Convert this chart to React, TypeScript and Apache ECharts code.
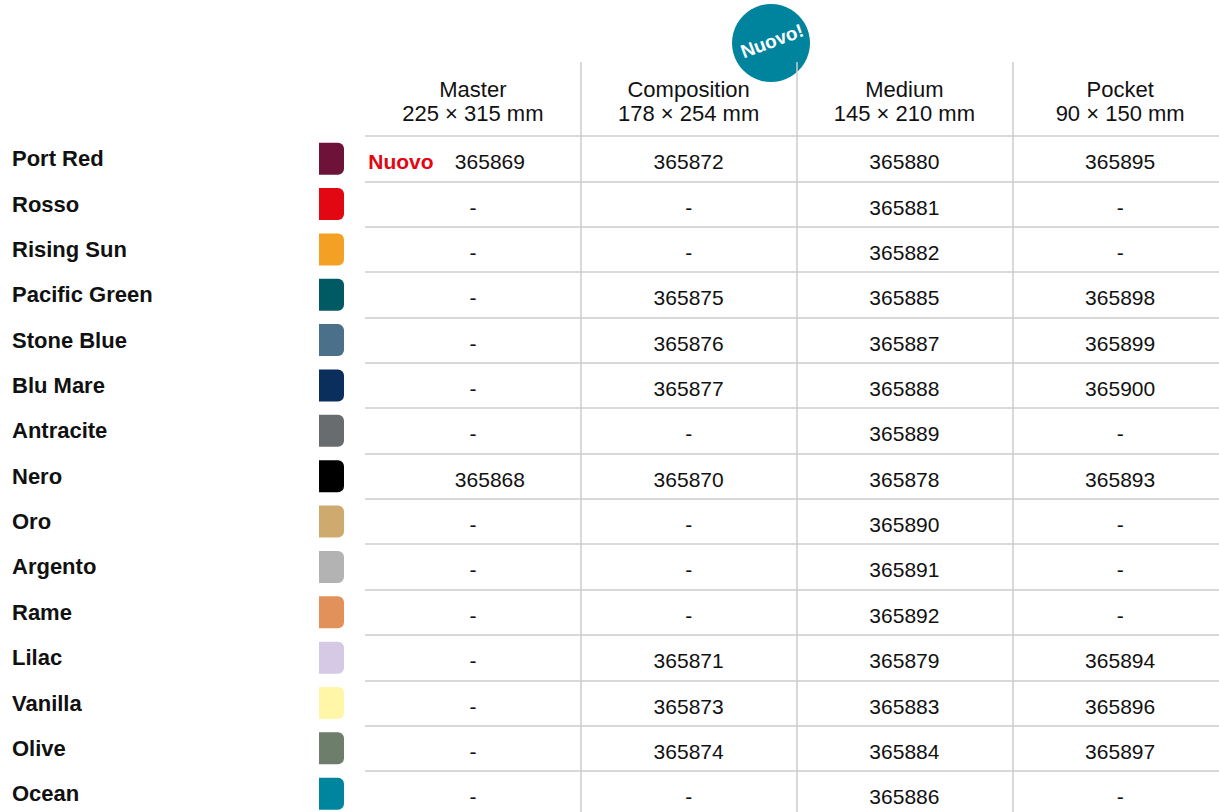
import React, { useEffect, useRef } from "react";
import * as echarts from "echarts";

const rowNames = [
  "Port Red", "Rosso", "Rising Sun", "Pacific Green", "Stone Blue", "Blu Mare", "Antracite",
  "Nero", "Oro", "Argento", "Rame", "Lilac", "Vanilla", "Olive", "Ocean",
];
const swatchColors = [
  "#6e1239", "#e30613", "#f4a024", "#005a63", "#4a7189", "#0b2f5c", "#696c6e",
  "#000000", "#cfaa6e", "#b3b3b3", "#e3915a", "#d6c9e5", "#fff6a8", "#6d7e6a", "#00859f",
];
const columnHeaders = [
  "Master\n225 × 315 mm",
  "Composition\n178 × 254 mm",
  "Medium\n145 × 210 mm",
  "Pocket\n90 × 150 mm",
];
const master = ["365869", "-", "-", "-", "-", "-", "-", "365868", "-", "-", "-", "-", "-", "-", "-"];
const composition = ["365872", "-", "-", "365875", "365876", "365877", "-", "365870", "-", "-", "-", "365871", "365873", "365874", "-"];
const medium = ["365880", "365881", "365882", "365885", "365887", "365888", "365889", "365878", "365890", "365891", "365892", "365879", "365883", "365884", "365886"];
const pocket = ["365895", "-", "-", "365898", "365899", "365900", "-", "365893", "-", "-", "-", "365894", "365896", "365897", "-"];
const masterFlags = ["Nuovo", "", "", "", "", "", "", "", "", "", "", "", "", "", ""];
const badgeText = "Nuovo!";

const FONT = "'Liberation Sans', Arial, Helvetica, sans-serif";
const LINE = "#cdcdcd";

export default function App() {
  const ref = useRef<HTMLDivElement>(null);

  useEffect(() => {
    if (!ref.current) return;
    const chart = echarts.init(ref.current, undefined, { renderer: "svg" });
    const columns = [master, composition, medium, pocket];
    const cellData: any[] = [];
    columns.forEach((col, ci) => {
      col.forEach((v, ri) => {
        const item: any = { value: [ci, ri, v] };
        if (ci === 0 && v !== "-") item.label = { offset: [17, 3] };
        cellData.push(item);
      });
    });
    const flagData = masterFlags
      .map((f, ri) => ({ value: [0, ri, f] }))
      .filter((d) => d.value[2] !== "");

    const skipFirst = (i: number) => i !== 0;

    chart.setOption({
      animation: false,
      backgroundColor: "#ffffff",
      textStyle: { fontFamily: FONT },
      grid: [
        { left: 365, width: 863, top: 136, height: 680.4 },
        { left: 319, width: 25, top: 136, height: 680.4 },
      ],
      xAxis: [
        {
          type: "category",
          gridIndex: 0,
          position: "top",
          data: columnHeaders,
          boundaryGap: true,
          axisLine: { show: false },
          axisTick: { show: true, length: 74, interval: skipFirst, lineStyle: { color: LINE, width: 1.5 } },
          splitLine: { show: true, interval: skipFirst, lineStyle: { color: LINE, width: 1.5 } },
          axisLabel: {
            interval: 0,
            margin: 11,
            fontSize: 22,
            lineHeight: 24,
            color: "#111111",
            fontFamily: FONT,
          },
        },
        { type: "value", gridIndex: 1, min: 0, max: 1, show: false },
      ],
      yAxis: [
        {
          type: "category",
          gridIndex: 0,
          inverse: true,
          data: rowNames,
          boundaryGap: true,
          axisLine: { show: false },
          axisTick: { show: false },
          splitLine: { show: true, interval: 0, lineStyle: { color: LINE, width: 1.5 } },
          axisLabel: {
            interval: 0,
            align: "left",
            margin: 353,
            padding: [4, 0, 0, 0],
            fontSize: 22,
            fontWeight: "bold",
            color: "#111111",
            fontFamily: FONT,
          },
        },
        {
          type: "category",
          gridIndex: 1,
          inverse: true,
          data: rowNames,
          show: false,
        },
      ],
      series: [
        {
          type: "bar",
          xAxisIndex: 1,
          yAxisIndex: 1,
          barWidth: 32,
          data: swatchColors.map((c) => ({ value: 1, itemStyle: { color: c, borderRadius: [0, 6, 6, 0] } })),
        },
        {
          type: "scatter",
          xAxisIndex: 0,
          yAxisIndex: 0,
          symbolSize: 1,
          itemStyle: { color: "rgba(255,255,255,0)", opacity: 1 },
          data: cellData,
          label: {
            show: true,
            position: "inside",
            offset: [0, 3],
            formatter: (p: any) => p.value[2],
            fontSize: 21,
            color: "#111111",
            textBorderWidth: 0,
            fontFamily: FONT,
          },
        },
        {
          type: "scatter",
          xAxisIndex: 0,
          yAxisIndex: 0,
          symbolSize: 1,
          itemStyle: { color: "rgba(255,255,255,0)", opacity: 1 },
          data: flagData,
          label: {
            show: true,
            position: "inside",
            offset: [-72, 3],
            formatter: (p: any) => p.value[2],
            fontSize: 21,
            fontWeight: "bold",
            color: "#e30613",
            textBorderWidth: 0,
            fontFamily: FONT,
          },
        },
      ],
      graphic: [
        {
          type: "group",
          z: 100,
          children: [
            { type: "circle", shape: { cx: 771, cy: 43, r: 39 }, style: { fill: "#00839c" } },
            {
              type: "text",
              x: 772,
              y: 41,
              rotation: 0.36,
              style: {
                text: badgeText,
                fill: "#ffffff",
                fontSize: 19,
                fontWeight: "bold",
                fontFamily: FONT,
                align: "center",
                verticalAlign: "middle",
              },
            },
          ],
        },
      ],
    });
    return () => chart.dispose();
  }, []);

  return (
    <div
      ref={ref}
      style={{ position: "fixed", left: 0, top: 0, width: 1240, height: 830, background: "#fff" }}
    />
  );
}
